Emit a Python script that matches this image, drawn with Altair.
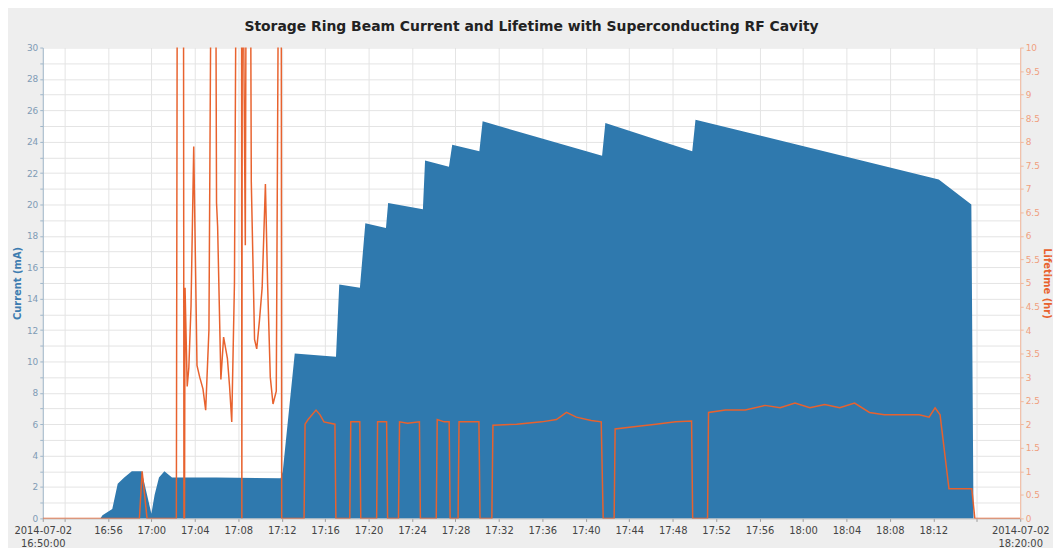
import altair as alt
import pandas as pd

# Beam current (mA) vs minutes after 2014-07-02 16:50:00
cur_min = [0, 5.3, 5.5, 6.4, 6.9, 7.5, 8.2, 9.1, 9.6, 10.0, 10.3, 10.7, 11.2, 11.9, 16.0, 21.9, 22.1,
           23.2, 27.0, 27.3, 29.2, 29.7, 31.6, 31.8, 35.0, 35.2, 37.4, 37.7, 40.2, 40.5, 51.5, 51.8,
           59.8, 60.1, 82.5, 85.5, 85.7, 90]
cur_ma = [0, 0, 0.2, 0.6, 2.2, 2.6, 3.0, 3.0, 1.5, 0.3, 1.5, 2.6, 3.0, 2.6, 2.6, 2.55, 3.0,
          10.5, 10.3, 14.9, 14.7, 18.8, 18.5, 20.1, 19.7, 22.8, 22.4, 23.8, 23.4, 25.3, 23.1, 25.2,
          23.4, 25.4, 21.6, 20.0, 0, 0]

# Lifetime (hr) vs minutes after 16:50:00 (values above 10 run off the top of the plot)
life_min = [0, 8.9, 9.15, 9.6, 12.3, 12.4, 12.95, 13.0, 13.05, 13.1, 13.3, 13.45, 13.65, 13.9, 14.2,
            14.45, 14.75, 15.0, 15.3, 15.55, 15.9, 16.0, 16.1, 16.4, 16.65, 17.0, 17.2, 17.4, 17.65,
            17.85, 18.3, 18.33, 18.38, 18.65, 18.75, 19.1, 19.2, 19.5, 19.7, 19.95, 20.2, 20.5, 20.7,
            20.95, 21.2, 21.5, 21.75, 21.95, 22.0,
            24.06, 24.15, 24.43, 25.16, 25.53, 25.89, 26.9, 26.99, 28.27, 28.36, 29.19, 29.28, 30.74,
            30.83, 31.66, 31.75, 32.75, 32.85, 33.58, 34.68, 34.77, 36.23, 36.32, 36.96, 37.42, 37.51,
            38.24, 38.33, 40.16, 40.26, 41.35, 41.45, 43.64, 45.93, 47.3, 48.22, 49.13, 50.5, 51.42,
            51.6, 52.61, 52.7, 54.62, 56.45, 58.28, 59.74, 59.84, 61.21, 61.3, 62.86, 64.68, 66.51,
            67.89, 69.26, 70.63, 72.0, 73.38, 74.75, 76.12, 77.49, 79.32, 80.7, 81.61, 82.16, 82.62,
            83.44, 85.54, 85.82, 90]
life_hr = [0, 0, 1.0, 0, 0, 14, 14, 0, 0, 4.9, 2.8, 3.2, 4.5, 7.9, 3.25,
           3.0, 2.75, 2.3, 4.0, 14, 14, 6.7, 6.2, 2.95, 3.85, 3.4, 2.8, 2.05, 5.0,
           14, 14, 0, 14, 5.8, 14, 14, 7.15, 3.8, 3.6, 4.2, 4.9, 7.1, 5.0,
           3.0, 2.43, 2.7, 14, 14, 0,
           0, 2.0, 2.1, 2.3, 2.2, 2.05, 2.0, 0, 0, 2.05, 2.05, 0, 0,
           2.05, 2.05, 0, 0, 2.05, 2.02, 2.05, 0, 0, 2.1, 2.05, 2.05, 0,
           0, 2.05, 2.05, 0, 0, 1.98, 2.0, 2.05, 2.1, 2.25, 2.15, 2.08, 2.05,
           0, 0, 1.9, 1.95, 2.0, 2.05, 2.07, 0, 0, 2.25, 2.3, 2.3, 2.4,
           2.35, 2.45, 2.35, 2.42, 2.35, 2.45, 2.25, 2.2, 2.2, 2.2, 2.15, 2.35, 2.2,
           0.63, 0.63, 0, 0]

# x axis tick times (hour, minute)
tick_hm = [(16, 50), (16, 52), (16, 56), (17, 0), (17, 4), (17, 8), (17, 12), (17, 16), (17, 20),
           (17, 24), (17, 28), (17, 32), (17, 36), (17, 40), (17, 44), (17, 48), (17, 52), (17, 56),
           (18, 0), (18, 4), (18, 8), (18, 12), (18, 16), (18, 20)]
cur_ticks = list(range(0, 31))
life_ticks = [i * 0.5 for i in range(21)]

start = pd.Timestamp("2014-07-02 16:50:00")
cur_df = pd.DataFrame({"time": start + pd.to_timedelta(cur_min, unit="min"), "current": cur_ma})
life_df = pd.DataFrame({"time": start + pd.to_timedelta(life_min, unit="min"), "lifetime": life_hr})

def dt(h, m):
    return alt.DateTime(year=2014, month=7, date=2, hours=h, minutes=m)

x_scale = alt.Scale(domain=[dt(16, 50), dt(18, 20)], nice=False)
label_expr = (
    "(hours(datum.value)==16 && minutes(datum.value)==50) || (hours(datum.value)==18 && minutes(datum.value)==20)"
    " ? ['2014-07-02', timeFormat(datum.value, '%H:%M:%S')]"
    " : ((hours(datum.value)==16 && minutes(datum.value)==52) || (hours(datum.value)==18 && minutes(datum.value)==16)"
    " ? '' : timeFormat(datum.value, '%H:%M'))"
)
x_axis = alt.Axis(
    values=[dt(h, m) for h, m in tick_hm], labelExpr=label_expr, title=None,
    labelOverlap=False, labelFlush=False, labelFontSize=10, labelColor="#444444", labelPadding=4,
    labelLineHeight=13, grid=True, gridColor="#e4e4e4", tickColor="#999999",
    domainColor="#bbbbbb", tickSize=3,
)

BLUE = "#2f79ae"
ORANGE = "#e8622e"

area = alt.Chart(cur_df).mark_area(color=BLUE, opacity=1, clip=True, interpolate="linear").encode(
    x=alt.X("time:T", scale=x_scale, axis=x_axis),
    y=alt.Y("current:Q", scale=alt.Scale(domain=[0, 30], nice=False),
            axis=alt.Axis(values=cur_ticks, orient="left", title="Current (mA)",
                          labelExpr="datum.value % 2 == 0 ? datum.label : ''",
                          titleColor="#3d7cb0", titleFontSize=10, titleFontWeight="bold",
                          titlePadding=4, labelColor="#7f9bb5", labelFontSize=9,
                          tickColor="#9fb6ca", domainColor="#9fb6ca", tickSize=3,
                          grid=True, gridColor="#e4e4e4", labelOverlap=False)),
)

line = alt.Chart(life_df).mark_line(color=ORANGE, strokeWidth=1.5, clip=True).encode(
    x=alt.X("time:T", scale=x_scale),
    y=alt.Y("lifetime:Q", scale=alt.Scale(domain=[0, 10], nice=False),
            axis=alt.Axis(values=life_ticks, orient="right", title="Lifetime (hr)", format=".1~f",
                          titleColor="#e8622e", titleFontSize=10, titleFontWeight="bold",
                          titlePadding=2, labelColor="#f0a07e", labelFontSize=9,
                          tickColor="#f3b79c", domainColor="#f3b79c", tickSize=3,
                          grid=False, labelOverlap=False)),
)

chart = alt.layer(area, line).resolve_scale(y="independent").properties(
    width=984, height=474,
    autosize=alt.AutoSizeParams(type="none"),
    padding={"left": 35, "top": 38, "right": 33, "bottom": 28},
    background="#eeeeee",
    title=alt.Title("Storage Ring Beam Current and Lifetime with Superconducting RF Cavity",
                    fontSize=14, fontWeight="bold", color="#222222", frame="group", offset=10),
).configure(font="DejaVu Sans", view=alt.ViewConfig(fill="white", stroke=None))

chart.save("out.html", embed_options={"renderer": "svg", "actions": False})
